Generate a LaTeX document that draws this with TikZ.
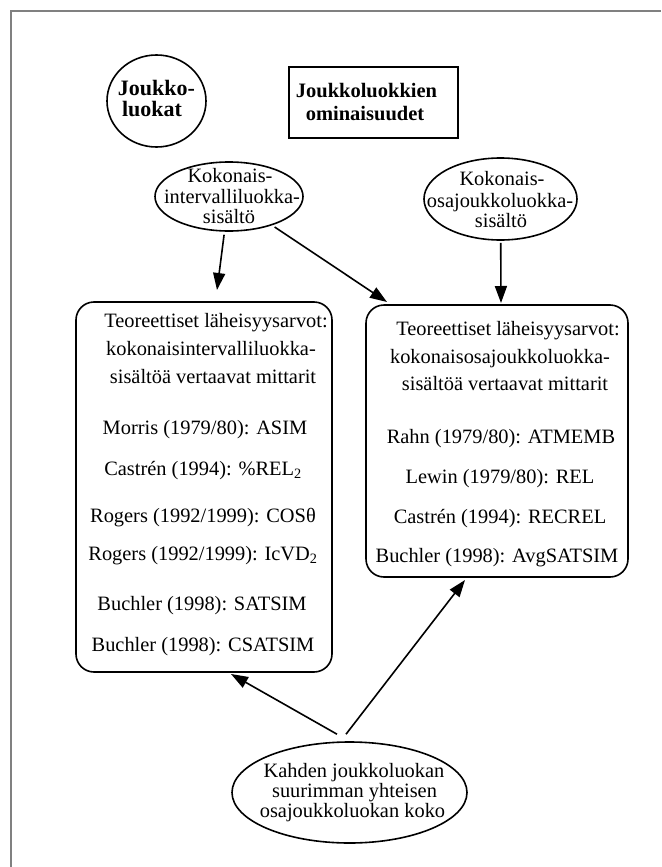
\documentclass[tikz,border=0pt]{standalone}
\usepackage{fontspec}
\setmainfont{Liberation Serif}
\usetikzlibrary{arrows.meta,shapes.geometric}
\tikzset{
  txt/.style={anchor=base, inner sep=0pt, font=\fontsize{20.4}{22}\selectfont},
  btxt/.style={anchor=base, inner sep=0pt, font=\fontsize{20.5}{22}\selectfont\bfseries},
  ell/.style={draw, ellipse, line width=1.6pt, inner sep=0pt},
  rbox/.style={draw, rectangle, rounded corners=18pt, line width=1.6pt, inner sep=0pt},
  tbox/.style={draw, rectangle, line width=1.8pt, inner sep=0pt},
  arr/.style={line width=1.6pt, -{Triangle[length=17pt,width=12pt]}},
  frame/.style={draw=black!50, line width=1.3pt}
}
\begin{document}
\begin{tikzpicture}[x=1pt,y=-1pt]
\useasboundingbox (0,0) rectangle (661,867);
\draw[frame] (11,867) -- (11,11) -- (661,11);

% top nodes
\node[ell, minimum width=99pt, minimum height=92pt] (jl) at (156.5,101) {};
\node[btxt, font=\fontsize{22}{22}\selectfont\bfseries] (jl1) at (156.5,95) {Joukko-};
\node[btxt, font=\fontsize{22}{22}\selectfont\bfseries] (jl2) at (152,116) {luokat};

\node[tbox, minimum width=169pt, minimum height=71pt] (tb) at (373.5,102.5) {};
\node[btxt] (tb1) at (366.5,97) {Joukkoluokkien};
\node[btxt] (tb2) at (365,120) {ominaisuudet};

% ellipse 1
\node[ell, minimum width=148pt, minimum height=69pt] (e1) at (229,196.5) {};
\node[txt] (e1a) at (230,182) {Kokonais-};
\node[txt] (e1b) at (232,203) {intervalliluokka-};
\node[txt] (e1c) at (229,223) {sisältö};

% ellipse 2
\node[ell, minimum width=153pt, minimum height=82pt] (e2) at (500.5,199) {};
\node[txt] (e2a) at (502,185) {Kokonais-};
\node[txt] (e2b) at (500,207) {osajoukkoluokka-};
\node[txt] (e2c) at (501,227) {sisältö};

% left box
\node[rbox, minimum width=256pt, minimum height=370pt] (L) at (204,487) {};
\node[txt] (L1) at (216,327) {Teoreettiset läheisyysarvot:};
\node[txt] (L2) at (211,355) {kokonaisintervalliluokka-};
\node[txt] (L3) at (213,383) {sisältöä vertaavat mittarit};
\node[txt] (L4) at (205,434) {Morris (1979/80): ASIM};
\node[txt] (L5) at (203,475) {Castrén (1994): \%REL\textsubscript{2}};
\node[txt] (L6) at (203,522) {Rogers (1992/1999): COSθ};
\node[txt] (L7) at (203,560) {Rogers (1992/1999): IcVD\textsubscript{2}};
\node[txt] (L8) at (202,610) {Buchler (1998): SATSIM};
\node[txt] (L9) at (203,651) {Buchler (1998): CSATSIM};

% right box
\node[rbox, minimum width=262pt, minimum height=272pt] (R) at (497,441) {};
\node[txt] (R1) at (508,335) {Teoreettiset läheisyysarvot:};
\node[txt] (R2) at (500,363) {kokonaisosajoukkoluokka-};
\node[txt] (R3) at (505,390) {sisältöä vertaavat mittarit};
\node[txt] (R4) at (501,443) {Rahn (1979/80): ATMEMB};
\node[txt] (R5) at (500,483) {Lewin (1979/80): REL};
\node[txt] (R6) at (500,523) {Castrén (1994): RECREL};
\node[txt] (R7) at (497,562) {Buchler (1998): AvgSATSIM};

% bottom ellipse
\node[ell, minimum width=235pt, minimum height=101pt] (b) at (349.5,792.5) {};
\node[txt] (b1) at (354,777) {Kahden joukkoluokan};
\node[txt] (b2) at (354.5,797) {suurimman yhteisen};
\node[txt] (b3) at (352.5,817) {osajoukkoluokan koko};

% arrow tips
\coordinate (t1) at (217,290);
\coordinate (t2) at (387,302);
\coordinate (t3) at (501,303);
\coordinate (t4) at (231,674);
\coordinate (t5) at (465,580);

\draw[arr, shorten <=3pt] (e1) -- (t1);
\draw[arr, shorten <=3pt] (e1) -- (t2);
\draw[arr, shorten <=2pt] (e2) -- (t3);
\draw[arr] ([xshift=-12.5pt,yshift=7pt]b.north) -- (t4);
\draw[arr] ([xshift=-3.5pt,yshift=7pt]b.north) -- (t5);
\end{tikzpicture}
\end{document}
